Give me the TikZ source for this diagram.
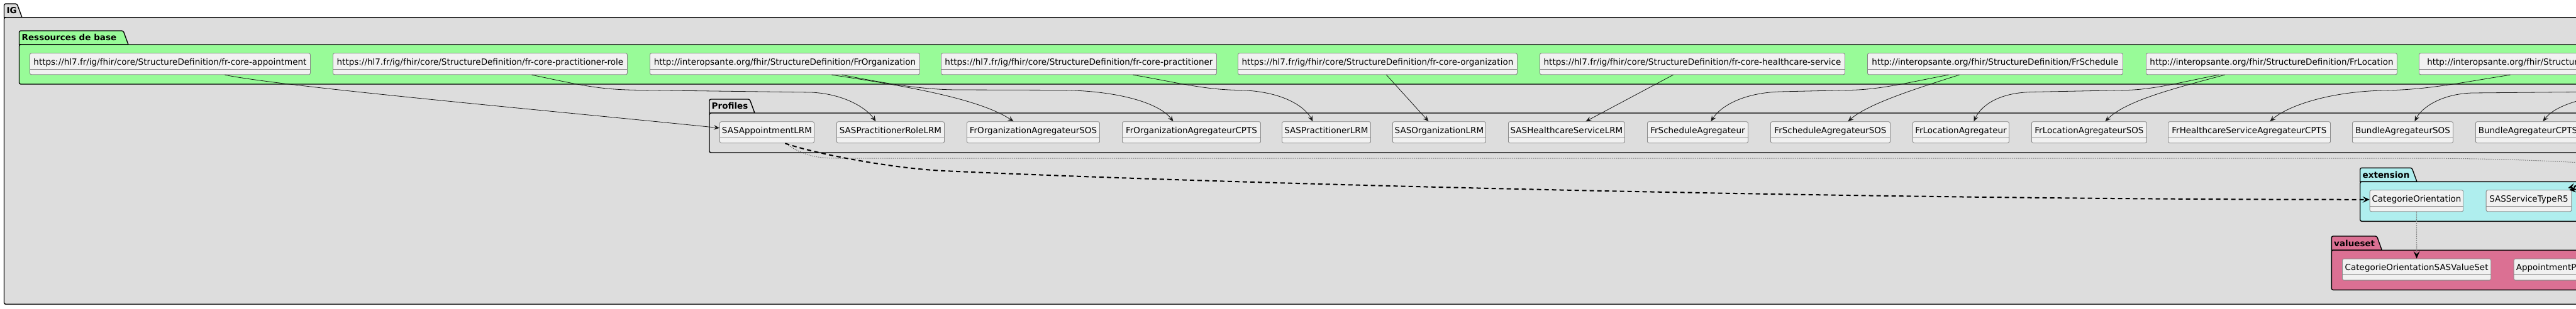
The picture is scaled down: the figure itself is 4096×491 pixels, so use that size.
\documentclass[tikz,border=0pt]{standalone}
\usepackage{fontspec}
\setmainfont{DejaVu Sans}
\usetikzlibrary{arrows.meta}
\definecolor{igfill}{HTML}{DDDDDD}
\definecolor{resfill}{HTML}{98FB98}
\definecolor{extfill}{HTML}{AFEEEE}
\definecolor{vsfill}{HTML}{DB7093}
\definecolor{clsfill}{HTML}{F1F1F1}
\definecolor{clsline}{HTML}{888888}
\definecolor{edgecol}{HTML}{181818}
\newcommand\clsfont{\fontsize{13.5}{16}\selectfont}
\newcommand\pkgfont{\fontsize{13.5}{16}\selectfont\bfseries}
\tikzset{
  cls/.style={draw=clsline, fill=clsfill, rounded corners=2.5pt, line width=0.9pt,
    anchor=north west, minimum height=34pt, inner xsep=0pt, inner ysep=0pt,
    text height=18.5pt, text depth=15.5pt, font=\clsfont,
    path picture={\draw[clsline, line width=0.9pt]
      ([yshift=8.5pt]path picture bounding box.south west) --
      ([yshift=8.5pt]path picture bounding box.south east);}},
  pkg/.style={draw=black, line width=1.4pt},
  pkglabel/.style={anchor=base west, font=\pkgfont, inner sep=0pt},
  extarrow/.style={draw=edgecol, line width=0.8pt, -{Stealth[length=9pt,width=7.5pt,inset=3.5pt]}},
  usedash/.style={draw=black, line width=2pt, dash pattern=on 7pt off 5pt,
    -{Stealth[length=11pt,width=10pt,inset=4.5pt]}},
  usedot/.style={draw=black!75, line width=1pt, dash pattern=on 1pt off 2pt},
  bindarrow/.style={draw=black!50, line width=1.3pt, dash pattern=on 1.5pt off 1.5pt,
    -{Stealth[length=12pt,width=10pt,inset=5pt,black]}},
}
\newcommand\cb[5]{\node[cls, minimum width=#4pt] (#1) at (#2,#3) {#5};}
\newcommand\pkgdraw[7]{%
  \filldraw[pkg, fill=#7] (#1,#4) [rounded corners=2.5pt] -- (#1,#2) -- (#3-8,#2) [sharp corners] -- (#3,#4) -- cycle;
  \filldraw[pkg, fill=#7, rounded corners=2.5pt] (#1,#4) rectangle (#5,#6);}
\begin{document}
\begin{tikzpicture}[x=1pt,y=-1pt]
\useasboundingbox (0,0) rectangle (4096,491);
\clip (0,0) rectangle (4096,491);
\fill[white] (0,0) rectangle (4096,491);

% packages
\pkgdraw{6.5}{6}{35}{27.7}{4400}{484.3}{igfill}
\node[pkglabel] (lIG) at (10.5,21.5) {IG};
\pkgdraw{30.5}{49}{204}{71}{4400}{134}{resfill}
\node[pkglabel] (lRes) at (34.5,64.5) {Ressources de base};
\pkgdraw{1128}{158}{1200}{180}{4400}{243}{igfill}
\node[pkglabel] (lProf) at (1131.5,173.5) {Profiles};
\pkgdraw{3752.7}{267.3}{3843}{289.3}{4400}{352.3}{extfill}
\node[pkglabel] (lExt) at (3756.5,283.3) {extension};
\pkgdraw{3707.3}{376}{3787.3}{398.3}{4400}{461.7}{vsfill}
\node[pkglabel] (lVs) at (3711,392.3) {valueset};

% base resources
\cb{b1}{47}{84.3}{446}{https://hl7.fr/ig/fhir/core/StructureDefinition/fr-core-appointment}
\cb{b2}{529}{84.3}{468}{https://hl7.fr/ig/fhir/core/StructureDefinition/fr-core-practitioner-role}
\cb{b3}{1033}{84.3}{429}{http://interopsante.org/fhir/StructureDefinition/FrOrganization}
\cb{b4}{1496}{84.3}{438}{https://hl7.fr/ig/fhir/core/StructureDefinition/fr-core-practitioner}
\cb{b5}{1968}{84.3}{444}{https://hl7.fr/ig/fhir/core/StructureDefinition/fr-core-organization}
\cb{b6}{2448}{84.3}{485}{https://hl7.fr/ig/fhir/core/StructureDefinition/fr-core-healthcare-service}
\cb{b7}{2969}{84.3}{406}{http://interopsante.org/fhir/StructureDefinition/FrSchedule}
\cb{b8}{3412}{84.3}{399}{http://interopsante.org/fhir/StructureDefinition/FrLocation}
\cb{b9}{3846}{84.3}{479}{http://interopsante.org/fhir/StructureDefinition/FrHealthcareService}

% profiles
\cb{p1}{1144}{193.3}{150}{SASAppointmentLRM}
\cb{p2}{1330}{193.3}{171}{SASPractitionerRoleLRM}
\cb{p3}{1537}{193.3}{211}{FrOrganizationAgregateurSOS}
\cb{p4}{1784}{193.3}{220}{FrOrganizationAgregateurCPTS}
\cb{p5}{2038}{193.3}{141}{SASPractitionerLRM}
\cb{p6}{2214}{193.3}{148}{SASOrganizationLRM}
\cb{p7}{2398}{193.3}{185}{SASHealthcareServiceLRM}
\cb{p8}{2619}{193.3}{160}{FrScheduleAgregateur}
\cb{p9}{2815}{193.3}{190}{FrScheduleAgregateurSOS}
\cb{p10}{3041}{193.3}{153}{FrLocationAgregateur}
\cb{p11}{3230}{193.3}{183}{FrLocationAgregateurSOS}
\cb{p12}{3447}{193.3}{258}{FrHealthcareServiceAgregateurCPTS}
\cb{p13}{3740}{193.3}{160}{BundleAgregateurSOS}
\cb{p14}{3936}{193.3}{166}{BundleAgregateurCPTS}

% extensions and value sets
\cb{e1}{3767.7}{302.3}{148.6}{CategorieOrientation}
\cb{e2}{3952.7}{302.3}{135.6}{SASServiceTypeR5}
\cb{v1}{3724}{411.7}{236.3}{CategorieOrientationSASValueSet}
\cb{v2}{3996.7}{411.7}{103}{AppointmentP}

% derivation edges
\draw[extarrow] ([xshift=87pt]b1.south) .. controls (447,138) and (894,178) .. ([yshift=7pt]p1.west);
\draw[extarrow] ([xshift=82pt]b2.south) .. controls (930,137) and (955,143) .. (1020,143.5) -- (1290,147) .. controls (1342,149.5) and (1378,172) .. ([xshift=-23.5pt]p2.north);
\draw[extarrow] ([xshift=74.5pt]b3.south) .. controls (1420,134) and (1555,155) .. ([xshift=-31.5pt]p3.north);
\draw[extarrow] ([xshift=90.5pt]b3.south) .. controls (1400,131) and (1460,142.5) .. (1520,143) -- (1690,143.5) .. controls (1785,145) and (1845,166) .. ([xshift=-29pt]p4.north);
\draw[extarrow] ([xshift=86pt]b4.south) .. controls (1870,131) and (1915,143) .. (1970,143.5) .. controls (2040,145) and (2075,170) .. ([xshift=-21.5pt]p5.north);
\draw[extarrow] ([xshift=14pt]b5.south) -- ([xshift=-17pt]p6.north);
\draw[extarrow] ([xshift=-30.5pt]b6.south) -- ([xshift=30.5pt]p7.north);
\draw[extarrow] ([xshift=-74pt]b7.south) .. controls (3040,130) and (2990,143) .. (2940,143.5) -- (2830,146) .. controls (2770,148) and (2735,170) .. ([xshift=21pt]p8.north);
\draw[extarrow] ([xshift=-57pt]b7.south) .. controls (3050,140) and (2970,165) .. ([xshift=28pt]p9.north);
\draw[extarrow] ([xshift=-83.5pt]b8.south) .. controls (3475,129) and (3425,143) .. (3380,143.5) -- (3230,146.5) .. controls (3172,148) and (3148,172) .. ([xshift=20.5pt]p10.north);
\draw[extarrow] ([xshift=-74.5pt]b8.south) .. controls (3460,140) and (3380,160) .. ([xshift=25.5pt]p11.north);
\draw[extarrow] ([xshift=-94.5pt]b9.south) .. controls (3910,132) and (3860,143) .. (3790,144) .. controls (3700,146) and (3635,170) .. ([xshift=33pt]p12.north);
\coordinate (srcA) at (4300,125);
\coordinate (srcB) at (4300,135);
\draw[extarrow] (srcA) .. controls (4200,146) .. (4096,146.5) -- (3930,148) .. controls (3880,150) and (3850,172) .. ([xshift=19pt]p13.north);
\draw[extarrow] (srcB) .. controls (4150,145) and (4070,158) .. ([xshift=24pt]p14.north);

% usage edges
\coordinate (dotEnd) at (4300,275);
\draw[usedot] ([xshift=29pt]p1.south) .. controls (1275,246) and (1295,252) .. (1330,252) -- (3840,252) .. controls (3980,252) and (4150,258) .. (dotEnd);
\draw[usedash] ([xshift=29pt]p1.south) .. controls (1300,246) and (1420,268) .. (1500,272) .. controls (2000,295) and (3000,318) .. ([yshift=2pt]e1.west);
\coordinate (srcC) at (4250,255);
\coordinate (srcD) at (4250,275);
\draw[usedash] (srcC) .. controls (4180,270) and (4120,290) .. ([xshift=-6pt,yshift=3pt]e2.north east);
\draw[usedash] (srcD) .. controls (4180,290) and (4120,300) .. ([xshift=-4pt]e2.north east);

% binding
\draw[bindarrow] (e1.south) -- (v1.north);
\end{tikzpicture}
\end{document}
